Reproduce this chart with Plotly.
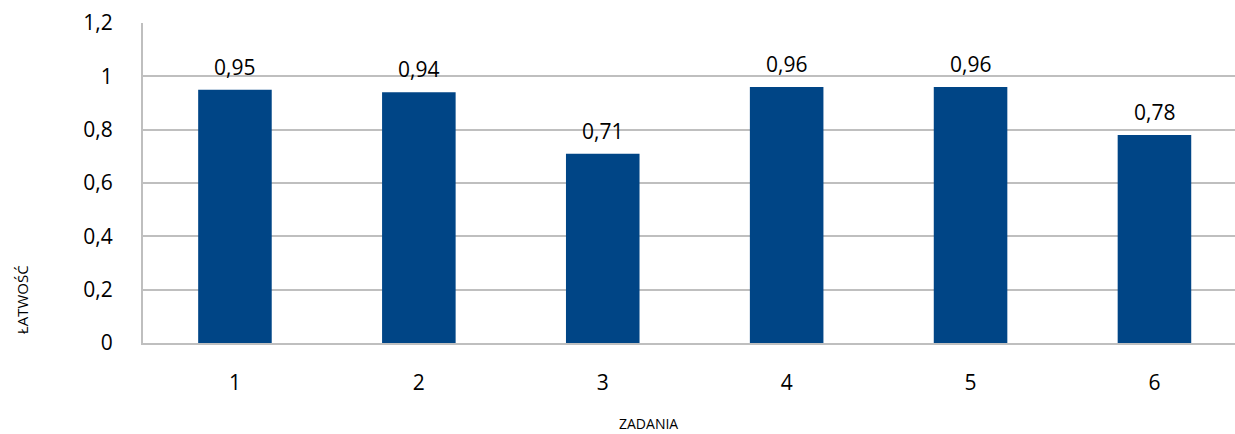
import plotly.graph_objects as go

categories = ["1", "2", "3", "4", "5", "6"]
values = [0.95, 0.94, 0.71, 0.96, 0.96, 0.78]
y_ticks = [0, 0.2, 0.4, 0.6, 0.8, 1.0, 1.2]
y_tick_labels = ["0", "0,2", "0,4", "0,6", "0,8", "1", "1,2"]

FONT = "Open Sans"
BAR = "#004586"
GRID = "#bfbfbf"

fig = go.Figure()
fig.add_trace(go.Bar(
    x=list(range(len(categories))), y=values, width=0.4,
    marker=dict(color=BAR, line=dict(width=0)),
    hoverinfo="skip",
))

for i, v in enumerate(values):
    fig.add_annotation(
        x=i, y=v, text=f"{v:.2f}".replace(".", ","), showarrow=False,
        yanchor="bottom", yshift=7, font=dict(family=FONT, size=21, color="#000"),
    )

fig.add_annotation(xref="paper", yref="paper", x=-0.1108, y=0.134, text="ŁATWOŚĆ",
                   xanchor="center", yanchor="middle",
                   textangle=-90, showarrow=False, font=dict(family=FONT, size=15, color="#000"))
fig.add_annotation(xref="paper", yref="paper", x=0.4625, y=-0.25, text="ZADANIA",
                   xanchor="center", yanchor="middle",
                   showarrow=False, font=dict(family=FONT, size=14, color="#000"))

fig.update_layout(
    width=1235, height=434,
    margin=dict(l=143, r=0, t=23, b=91),
    paper_bgcolor="white", plot_bgcolor="white",
    showlegend=False,
    xaxis=dict(
        range=[-0.5, 5.438],
        tickmode="array", tickvals=list(range(len(categories))), ticktext=categories,
        showgrid=False, showline=True, linecolor=GRID, linewidth=2,
        ticks="", ticklabelstandoff=20,
        tickfont=dict(family=FONT, size=21, color="#000"),
        zeroline=False,
    ),
    yaxis=dict(
        range=[0, 1.2],
        tickmode="array", tickvals=y_ticks, ticktext=y_tick_labels,
        showgrid=True, gridcolor=GRID, gridwidth=2,
        showline=True, linecolor=GRID, linewidth=2,
        ticks="", ticklabelstandoff=24,
        tickfont=dict(family=FONT, size=21, color="#000"),
        zeroline=False,
    ),
)

fig.write_html("out.html", config={"displayModeBar": False},
               post_script="document.body.style.margin='0';")
